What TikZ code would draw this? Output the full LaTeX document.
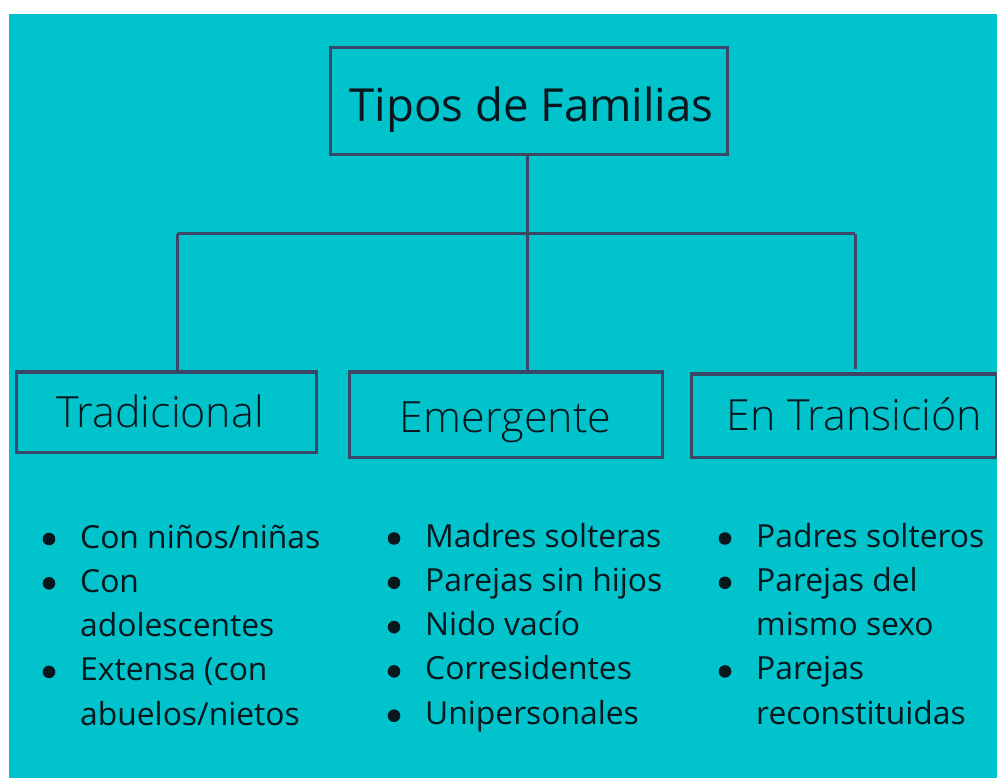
\documentclass[tikz,border=0pt]{standalone}
\usepackage{fontspec}
\setmainfont{Open Sans}
\IfFontExistsTF{Open Sans Light}{\newfontfamily\lightfont{Open Sans Light}}{\newfontfamily\lightfont{Open Sans}}
\definecolor{teal}{HTML}{00C3CC}
\definecolor{slate}{HTML}{3A4766}
\definecolor{ink}{HTML}{08171D}
\newcommand\nob{\makebox[39pt][l]{}}
\tikzset{
  box/.style={draw=slate, line width=3pt, inner sep=0pt, text=ink, text depth=0pt, font=\lightfont\fontsize{43}{50}\selectfont},
  titlebox/.style={draw=slate, line width=3pt, inner sep=0pt, text=ink, font=\fontsize{45.6}{54}\selectfont},
  conn/.style={draw=slate, line width=3pt},
  listnode/.style={inner sep=0pt, anchor=base west, text=ink, font=\fontsize{31.8}{44.3}\selectfont},
  dot/.style={fill=ink}
}
\begin{document}
\begin{tikzpicture}[x=1pt,y=-1pt]
\useasboundingbox (0,0) rectangle (997,778);
\fill[white] (0,0) rectangle (997,778);
\fill[teal] (9,14) rectangle (997,778);

\node[titlebox, minimum width=397pt, minimum height=107pt, text height=41pt, text depth=0pt] (top) at (528.5,101.5) {\hspace*{6pt}Tipos de Familias};

\node[box, minimum width=300pt, minimum height=80pt, text height=32pt] (trad) at (166,412) {\hspace*{-12pt}Tradicional};
\node[box, minimum width=313pt, minimum height=85pt, text height=35pt] (emer) at (505.5,414.5) {Emergente};
\node[box, minimum width=305pt, minimum height=83pt, text height=29pt] (tran) at (843.5,415.5) {\hspace*{22pt}En Transición};

\coordinate (hl) at (177,234);
\coordinate (hm) at (527,234);
\coordinate (hr) at (855,234);
\coordinate (hrend) at (855,369);

\draw[conn] (top.south -| hm) -- (hm);
\draw[conn] (hl) -- (hr);
\draw[conn] (hl) -- (trad.north -| hl);
\draw[conn] (hm) -- (emer.north -| hm);
\draw[conn] (hr) -- (hrend);

\node[listnode] (l1) at (41,548) {\begin{tabular}[t]{@{}l@{}}
\nob Con niños/niñas\\
\nob Con\\
\nob adolescentes\\
\nob Extensa (con\\
\nob abuelos/nietos
\end{tabular}};

\node[listnode] (l2) at (386,547) {\begin{tabular}[t]{@{}l@{}}
\nob Madres solteras\\
\nob Parejas sin hijos\\
\nob Nido vacío\\
\nob Corresidentes\\
\nob Unipersonales
\end{tabular}};

\node[listnode] (l3) at (717,547) {\begin{tabular}[t]{@{}l@{}}
\nob Padres solteros\\
\nob Parejas del\\
\nob mismo sexo\\
\nob Parejas\\
\nob reconstituidas
\end{tabular}};

\foreach \i in {0,1,3} \fill[dot] ([shift={(8,{-9+44.3*\i})}]l1.base west) circle (6.3pt);
\foreach \i in {0,1,2,3,4} \fill[dot] ([shift={(8,{-8.5+44.3*\i})}]l2.base west) circle (6.3pt);
\foreach \i in {0,1,3} \fill[dot] ([shift={(8,{-8.5+44.3*\i})}]l3.base west) circle (6.3pt);
\end{tikzpicture}
\end{document}
